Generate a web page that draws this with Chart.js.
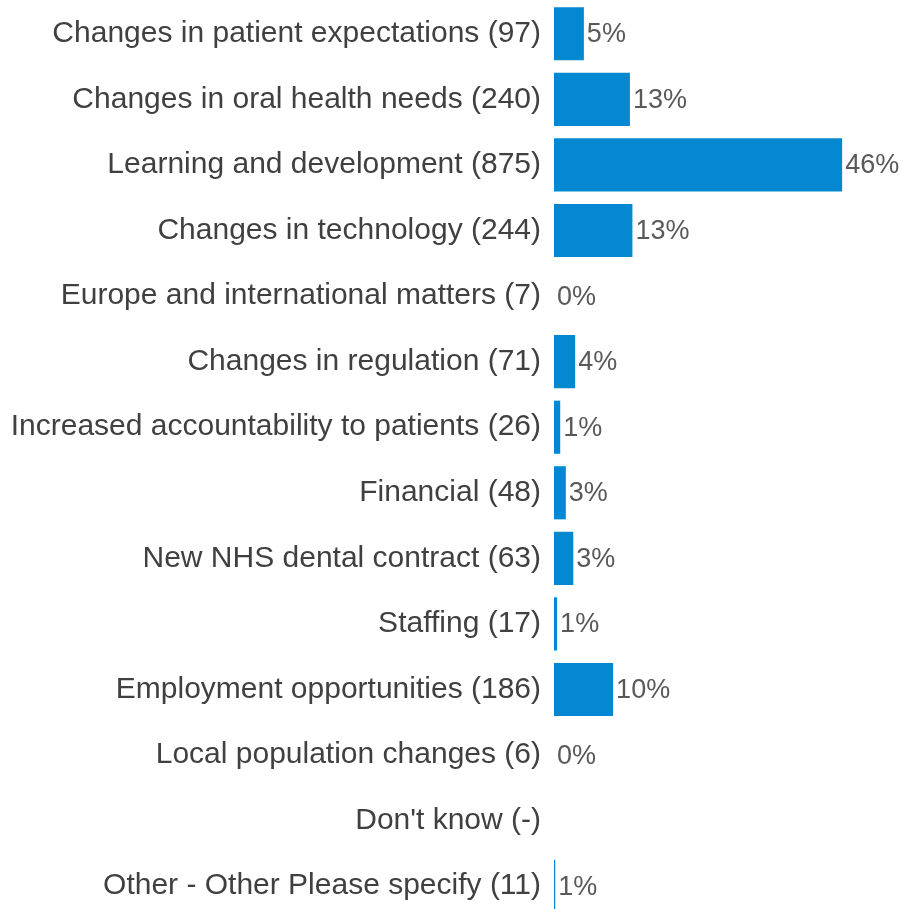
<!DOCTYPE html>
<html>
<head>
  <title>Future influences</title>
  <script src="https://cdn.jsdelivr.net/npm/chart.js"></script>
  <style>
    body {
      margin: 0;
      background: #fff;
      overflow: hidden;
    }
    #wrap {
      width: 905px;
      height: 919px;
    }
  </style>
</head>
<body>
  <div id="wrap"><canvas id="chart"></canvas></div>

  <script>
    // categories, read top to bottom
    const categories = [
      'Changes in patient expectations (97)',
      'Changes in oral health needs (240)',
      'Learning and development (875)',
      'Changes in technology (244)',
      'Europe and international matters (7)',
      'Changes in regulation (71)',
      'Increased accountability to patients (26)',
      'Financial (48)',
      'New NHS dental contract (63)',
      'Staffing (17)',
      'Employment opportunities (186)',
      'Local population changes (6)',
      "Don't know (-)",
      'Other - Other Please specify (11)'
    ];

    // bar lengths as drawn (percent)
    const shares = [4.8, 12.2, 46.3, 12.6, 0, 3.4, 1.0, 1.9, 3.1, 0.5, 9.5, 0, null, 0.2];

    // printed labels beside bars
    const shareLabels = ['5%', '13%', '46%', '13%', '0%', '4%', '1%', '3%', '3%', '1%', '10%', '0%', '', '1%'];

    // draws the % text just right of each bar
    const valueLabels = {
      id: 'valueLabels',
      afterDatasetsDraw(chart) {
        const ctx = chart.ctx;
        const meta = chart.getDatasetMeta(0);
        ctx.save();
        ctx.font = '27px "Liberation Sans", Arial, sans-serif';
        ctx.fillStyle = '#595959';
        ctx.textAlign = 'left';
        ctx.textBaseline = 'middle';
        meta.data.forEach((bar, i) => {
          if (!shareLabels[i]) return;
          ctx.fillText(shareLabels[i], bar.x + 3, bar.y + 1);
        });
        ctx.restore();
      }
    };

    const ctx = document.getElementById('chart').getContext('2d');
    new Chart(ctx, {
      type: 'bar',
      data: {
        labels: categories,
        datasets: [{
          data: shares,
          backgroundColor: '#0488d1',
          borderWidth: 0,
          barPercentage: 0.9,
          categoryPercentage: 0.9
        }]
      },
      options: {
        indexAxis: 'y',
        animation: false,
        responsive: true,
        maintainAspectRatio: false,
        layout: { padding: { top: 1, right: 0, bottom: 0, left: 0 } },
        plugins: {
          legend: { display: false },
          tooltip: { enabled: false }
        },
        scales: {
          x: {
            min: 0,
            max: 56.4,
            display: false
          },
          y: {
            grid: { display: false, drawTicks: false },
            border: { display: false },
            ticks: {
              padding: 13,
              color: '#404040',
              font: { family: '"Liberation Sans", Arial, sans-serif', size: 30 }
            },
            afterFit: (scale) => {
              scale.width = 554;
              scale.paddingTop = 0;
              scale.paddingBottom = 0;
            }
          }
        }
      },
      plugins: [valueLabels]
    });
  </script>
</body>
</html>
